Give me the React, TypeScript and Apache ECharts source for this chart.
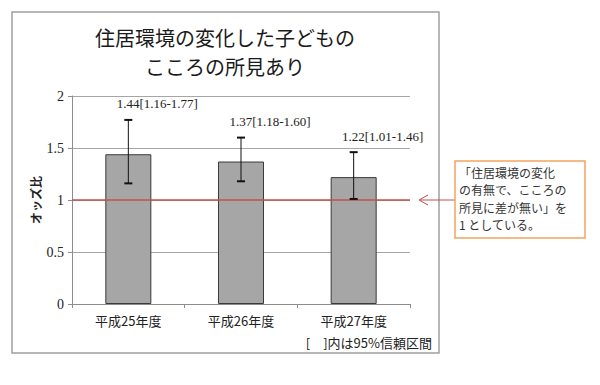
import React, { useEffect, useRef } from "react";
import * as echarts from "echarts";

const categories = ["平成25年度", "平成26年度", "平成27年度"];
const oddsRatios = [1.44, 1.37, 1.22];
const ciLower = [1.16, 1.18, 1.01];
const ciUpper = [1.77, 1.6, 1.46];
const yTicks = { min: 0, max: 2, interval: 0.5 };
const referenceValue = 1;
const titleLines = ["住居環境の変化した子どもの", "こころの所見あり"];
const yAxisName = "オッズ比";
const noteLines = ["「住居環境の変化", "の有無で、こころの", "所見に差が無い」を", "1 としている。"];
const footnote = "[　]内は95%信頼区間";

const SERIF = "'Liberation Serif', 'Noto Sans CJK JP', serif";
const CJK = "'Noto Sans CJK JP', sans-serif";

export default function App() {
  const ref = useRef<HTMLDivElement>(null);
  useEffect(() => {
    if (!ref.current) return;
    const chart = echarts.init(ref.current, null, { renderer: "svg" });
    const errData = categories.map((_, i) => [i, oddsRatios[i], ciLower[i], ciUpper[i]]);
    const noteTexts = noteLines.map((line, i) => ({
      type: "text",
      x: 459,
      y: 172 + i * 17.6,
      style: {
        text: line,
        font: `12px ${CJK}`,
        fill: "#333",
        align: "left",
        verticalAlign: "middle",
      },
    }));
    chart.setOption({
      animation: false,
      backgroundColor: "#ffffff",
      grid: { left: 72, right: 190, top: 96, bottom: 81 },
      xAxis: {
        type: "category",
        data: categories,
        axisLine: { lineStyle: { color: "#8c8c8c", width: 1 } },
        axisTick: { show: true, length: 4, lineStyle: { color: "#8c8c8c" } },
        axisLabel: { color: "#222", fontSize: 13, fontFamily: CJK, margin: 10 },
      },
      yAxis: {
        type: "value",
        min: yTicks.min,
        max: yTicks.max,
        interval: yTicks.interval,
        axisLine: { show: true, lineStyle: { color: "#8c8c8c", width: 1 } },
        axisTick: { show: true, length: 4, lineStyle: { color: "#8c8c8c" } },
        axisLabel: { color: "#222", fontSize: 14, fontFamily: SERIF, margin: 8 },
        splitLine: { lineStyle: { color: "#a6a6a6", width: 1 } },
      },
      series: [
        {
          type: "bar",
          data: oddsRatios,
          barWidth: 46,
          itemStyle: { color: "#a6a6a6", borderColor: "#3a3a3a", borderWidth: 1 },
          markLine: {
            silent: true,
            symbol: "none",
            label: { show: false },
            lineStyle: { color: "#c0504d", width: 1.5, type: "solid" },
            data: [{ yAxis: referenceValue }],
          },
        },
        {
          type: "custom",
          data: errData,
          encode: { x: 0, y: [1, 2, 3] },
          z: 10,
          renderItem: (params: any, api: any) => {
            const idx = api.value(0);
            const v = api.value(1);
            const lo = api.value(2);
            const hi = api.value(3);
            const pLo = api.coord([idx, lo]);
            const pHi = api.coord([idx, hi]);
            const x = pLo[0];
            const cap = 4;
            const label = `${v.toFixed(2)}[${lo.toFixed(2)}-${hi.toFixed(2)}]`;
            return {
              type: "group",
              children: [
                { type: "line", shape: { x1: x, y1: pLo[1], x2: x, y2: pHi[1] }, style: { stroke: "#111", lineWidth: 1 } },
                { type: "line", shape: { x1: x - cap, y1: pLo[1], x2: x + cap, y2: pLo[1] }, style: { stroke: "#111", lineWidth: 2 } },
                { type: "line", shape: { x1: x - cap, y1: pHi[1], x2: x + cap, y2: pHi[1] }, style: { stroke: "#111", lineWidth: 2 } },
                {
                  type: "text",
                  x: x + 29,
                  y: pHi[1] - 16,
                  style: { text: label, fill: "#222", font: `13px ${SERIF}`, align: "center", verticalAlign: "middle" },
                },
              ],
            };
          },
        },
      ],
      graphic: [
        {
          type: "rect",
          shape: { x: 12, y: 12, width: 427, height: 341 },
          style: { fill: "none", stroke: "#a0a0a0", lineWidth: 1.5 },
          z: -1,
        },
        {
          type: "text",
          x: 225,
          y: 37,
          style: { text: titleLines[0], font: `20px ${CJK}`, fill: "#1a1a1a", align: "center", verticalAlign: "middle" },
        },
        {
          type: "text",
          x: 225,
          y: 66,
          style: { text: titleLines[1], font: `20px ${CJK}`, fill: "#1a1a1a", align: "center", verticalAlign: "middle" },
        },
        {
          type: "text",
          x: 35,
          y: 200,
          rotation: Math.PI / 2,
          style: { text: yAxisName, font: `bold 12px ${CJK}`, fill: "#222", align: "center", verticalAlign: "middle" },
        },
        {
          type: "text",
          x: 432,
          y: 342,
          style: { text: footnote, font: `13px ${CJK}`, fill: "#222", align: "right", verticalAlign: "middle" },
        },
        {
          type: "line",
          shape: { x1: 420, y1: 200, x2: 455, y2: 200 },
          style: { stroke: "#c0504d", lineWidth: 1 },
        },
        {
          type: "polyline",
          shape: { points: [[428, 195], [419, 200], [428, 205]] },
          style: { stroke: "#c0504d", lineWidth: 1, fill: "none" },
        },
        {
          type: "rect",
          shape: { x: 455, y: 161, width: 130, height: 77 },
          style: { fill: "#ffffff", stroke: "#f4a460", lineWidth: 1.5 },
        },
        ...noteTexts,
      ],
    });
    return () => chart.dispose();
  }, []);
  return (
    <div
      ref={ref}
      style={{ position: "absolute", left: 0, top: 0, width: 600, height: 385, background: "#fff" }}
    />
  );
}
